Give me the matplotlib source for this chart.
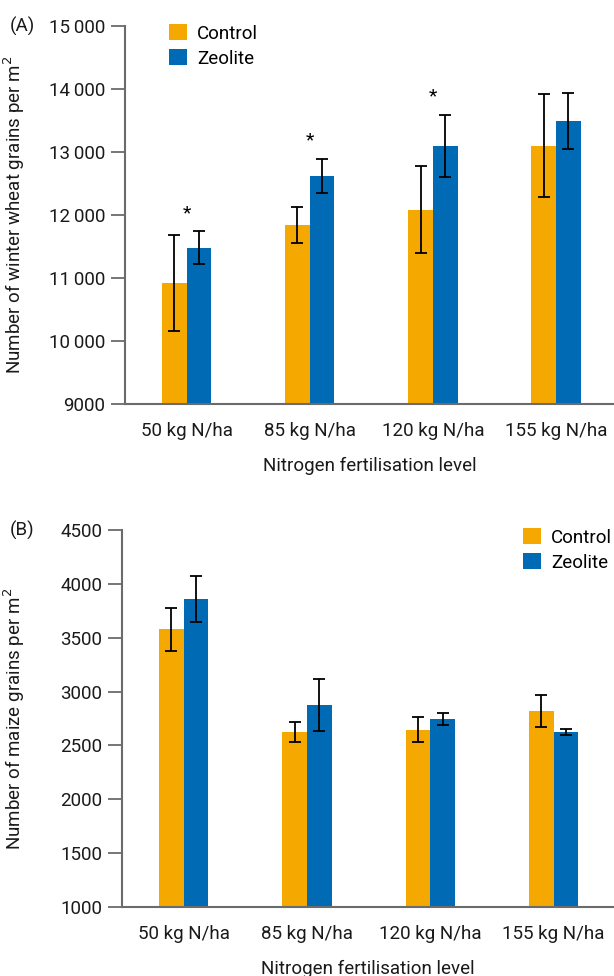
import matplotlib.pyplot as plt
import numpy as np

plt.rcParams['font.family'] = ['Roboto', 'DejaVu Sans']

groups = ["50 kg N/ha", "85 kg N/ha", "120 kg N/ha", "155 kg N/ha"]

# (A) winter wheat
wheat_control = [10920, 11840, 12080, 13100]
wheat_control_err = [760, 285, 690, 820]
wheat_zeolite = [11480, 12620, 13095, 13490]
wheat_zeolite_err = [260, 270, 490, 450]
wheat_stars = [True, True, True, False]

# (B) maize
maize_control = [3580, 2625, 2645, 2820]
maize_control_err = [200, 90, 115, 145]
maize_zeolite = [3860, 2876, 2745, 2625]
maize_zeolite_err = [215, 240, 55, 28]

orange = "#F5A800"
blue = "#006BB4"
grey = "#6b6b6b"
txt = "#1a1a1a"
fs = 13.5
w = 0.2

fig = plt.figure(figsize=(6.14, 9.76), dpi=100)
W, H = 614, 976


def panel(rect, ctrl, ctrl_err, zeo, zeo_err, ylim, yticks, ylabel, xlim):
    l, t, r, b = rect
    ax = fig.add_axes([l / W, 1 - b / H, (r - l) / W, (b - t) / H])
    x = np.arange(len(groups))
    ekw = dict(elinewidth=1.3, capthick=1.3, ecolor="black")
    ax.bar(x - w / 2, ctrl, w, color=orange, label="Control",
           yerr=ctrl_err, capsize=4, error_kw=ekw)
    ax.bar(x + w / 2, zeo, w, color=blue, label="Zeolite",
           yerr=zeo_err, capsize=4, error_kw=ekw)
    ax.set_ylim(*ylim)
    ax.set_xlim(*xlim)
    ax.set_yticks(yticks)
    ax.set_xticks(x)
    ax.set_xticklabels(groups, fontsize=fs, color=txt)
    ax.tick_params(axis="x", length=0, pad=13)
    ax.tick_params(axis="y", length=10, width=1.3, color=grey, labelsize=fs,
                   labelcolor=txt, pad=4)
    for s in ["top", "right"]:
        ax.spines[s].set_visible(False)
    for s in ["left", "bottom"]:
        ax.spines[s].set_color(grey)
        ax.spines[s].set_linewidth(1.5)
    ax.set_ylabel(ylabel, fontsize=fs, color=txt)
    ax.yaxis.set_label_coords((27 - l) / (r - l), 0.5)
    ax.set_xlabel("Nitrogen fertilisation level", fontsize=fs,
                  color=txt, labelpad=12)
    return ax


def thousands(v):
    return f"{int(v):,}".replace(",", "\u2009") if v >= 10000 else str(int(v))


ax1 = panel((125, 26, 614, 404), wheat_control, wheat_control_err,
            wheat_zeolite, wheat_zeolite_err, (9000, 15000),
            np.arange(9000, 15001, 1000),
            "Number of winter wheat grains per m$^2$", (-0.5, 3.47))
ax1.set_yticklabels([thousands(v) for v in np.arange(9000, 15001, 1000)])
for i, s in enumerate(wheat_stars):
    if s:
        top = max(wheat_control[i] + wheat_control_err[i],
                  wheat_zeolite[i] + wheat_zeolite_err[i])
        ax1.text(i, top + 150, "*", ha="center", va="bottom", fontsize=14)
ax1.legend(loc="upper left", bbox_to_anchor=(0.055, 1.05), frameon=False,
           fontsize=fs, handlelength=0.95, handleheight=0.95,
           handletextpad=0.55, labelspacing=0.35)
fig.text(10 / W, 1 - 26 / H, "(A)", fontsize=fs, va="center", ha="left", color=txt)

ax2 = panel((122, 530, 614, 907), maize_control, maize_control_err,
            maize_zeolite, maize_zeolite_err, (1000, 4500),
            np.arange(1000, 4501, 500),
            "Number of maize grains per m$^2$", (-0.5, 3.49))
ax2.legend(loc="upper right", bbox_to_anchor=(1.03, 1.05), frameon=False,
           fontsize=fs, handlelength=0.95, handleheight=0.95,
           handletextpad=0.55, labelspacing=0.35)
fig.text(10 / W, 1 - 530 / H, "(B)", fontsize=fs, va="center", ha="left", color=txt)

fig.savefig("out.png", dpi=100)
